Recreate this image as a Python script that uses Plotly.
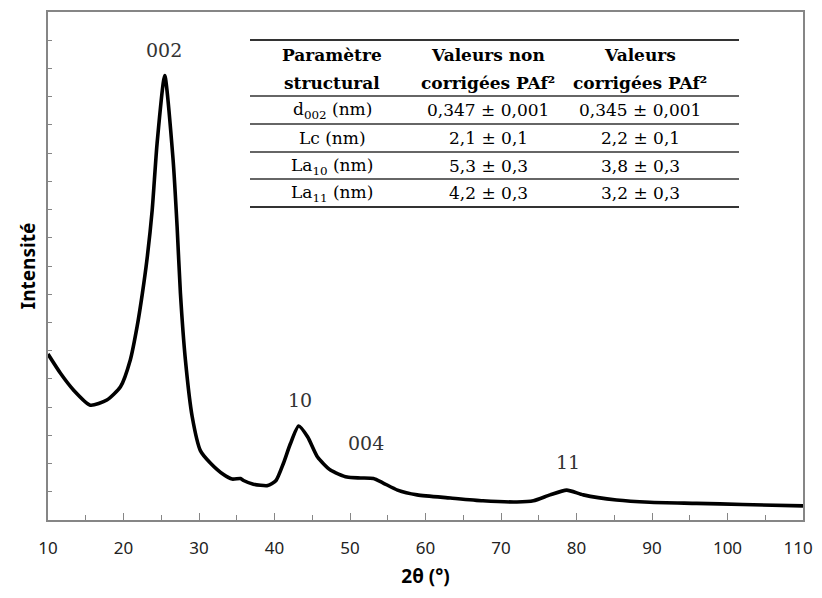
import plotly.graph_objects as go

# diffractogramme (2theta en degres, intensite en unites arbitraires)
two_theta = [10, 11.65, 13.4, 15.6, 17.8, 19.6, 20.9, 21.8, 22.5, 23.1, 23.8, 24.45,
             25.46, 26.57, 27.1, 27.54, 28.2, 29.1, 30.2, 31.5, 33.2,
             34.4, 35.5, 35.9, 37.2, 39.1, 40.2, 41.2, 42.1, 43.2, 44.4, 45.7, 47.4,
             49.6, 51.4, 53.1, 54.4, 56.3, 58.9, 63.3, 67.6, 72.1, 74.3, 76.5, 78.7,
             80.9, 85.3, 89.7, 95.9, 102, 110]
intensity = [5.88, 5.2, 4.6, 4.07, 4.25, 4.72, 5.67, 6.85, 8.03, 9.21, 10.98, 13.35,
             15.75, 12.76, 10.39, 8.03, 5.67, 3.66, 2.45, 2.02, 1.62,
             1.45, 1.47, 1.4, 1.27, 1.22, 1.4, 2.02, 2.7, 3.33, 2.94, 2.23, 1.77,
             1.52, 1.49, 1.47, 1.31, 1.06, 0.89, 0.78, 0.68, 0.64, 0.68, 0.89, 1.06,
             0.89, 0.71, 0.63, 0.59, 0.55, 0.5]

x_ticks = [10, 20, 30, 40, 50, 60, 70, 80, 90, 100, 110]
# last label padded with a figure space so it is not cut at the window edge
x_ticktext = [str(t) for t in x_ticks[:-1]] + ["110\u2007"]

peak_labels = ["002", "10", "004", "11"]
peak_x = [25.4, 43.4, 52.1, 78.9]
peak_y = [16.65, 4.25, 2.73, 2.06]

header_l1 = ["Paramètre", "Valeurs non", "Valeurs"]
header_l2 = ["structural", "corrigées PAf²", "corrigées PAf²"]
col_param = ["d<sub>002</sub> (nm)", "Lc (nm)", "La<sub>10</sub> (nm)", "La<sub>11</sub> (nm)"]
col_noncorr = ["0,347 ± 0,001", "2,1 ± 0,1", "5,3 ± 0,3", "4,2 ± 0,3"]
col_corr = ["0,345 ± 0,001", "2,2 ± 0,1", "3,8 ± 0,3", "3,2 ± 0,3"]

fig = go.Figure()
fig.add_trace(go.Scatter(x=two_theta, y=intensity, mode="lines",
                         line=dict(color="black", width=3.6, shape="spline", smoothing=0.6),
                         showlegend=False, hoverinfo="skip"))

serif = "DejaVu Serif"
for lab, px, py in zip(peak_labels, peak_x, peak_y):
    fig.add_annotation(x=px, y=py, text=lab, showarrow=False,
                       xanchor="center", yanchor="middle",
                       font=dict(family=serif, size=19, color="#333"))

# table: page pixels -> paper coords (plot area 48..803 x 12..520)
def xp(p):
    return (p - 48) / 755

def yp(p):
    return (520 - p) / 508

def cell(x, y, text, size=17):
    fig.add_annotation(x=xp(x), y=yp(y), xref="paper", yref="paper",
                       xanchor="center", yanchor="middle",
                       text=text, showarrow=False,
                       font=dict(family=serif, size=size, color="black"))

col_cx = [332, 488, 640]
for i in range(3):
    cell(col_cx[i], 55, "<b>" + header_l1[i] + "</b>")
    cell(col_cx[i], 83, "<b>" + header_l2[i] + "</b>")
row_y = [110, 138, 166, 193]
for ci, vals in enumerate([col_param, col_noncorr, col_corr]):
    for r, v in enumerate(vals):
        cell(col_cx[ci], row_y[r], v)

rules = [(40, 2.2), (96, 1.6), (124, 1.6), (152, 1.6), (179, 1.6), (207, 2.2)]
for ry, w in rules:
    fig.add_shape(type="line", xref="paper", yref="paper",
                  x0=xp(250), x1=xp(739), y0=yp(ry), y1=yp(ry),
                  line=dict(color="#333", width=w))

axis_col = "#868686"
# page has an 8px body margin, so the figure is sized to fit the window
fig.update_layout(
    width=814, height=582,
    margin=dict(l=40, r=19, t=4, b=70),
    paper_bgcolor="white", plot_bgcolor="white",
    xaxis=dict(range=[10, 110], tickvals=x_ticks, ticktext=x_ticktext,
               ticks="inside", ticklen=7,
               tickwidth=1.3, tickcolor=axis_col, automargin=False,
               ticklabeloverflow="allow",
               minor=dict(dtick=5, tick0=10, ticks="inside", ticklen=5,
                          tickcolor=axis_col, tickwidth=1.3),
               showline=True, linecolor=axis_col, linewidth=1.5, mirror=True,
               showgrid=False, zeroline=False,
               tickfont=dict(family="Noto Sans", size=17, color="#222"),
               ticklabelstandoff=12,
               title=dict(text="<b>2θ (°)</b>", standoff=12,
                          font=dict(family="Noto Sans", size=19, color="black"))),
    yaxis=dict(range=[0, 18], dtick=1, tick0=0, ticks="inside", ticklen=4,
               tickwidth=1.3, tickcolor=axis_col, showticklabels=False, automargin=False,
               showline=True, linecolor=axis_col, linewidth=1.5, mirror=True,
               showgrid=False, zeroline=False,
               title=dict(text="<b>Intensité</b>", standoff=6,
                          font=dict(family="Noto Sans", size=19, color="black"))),
)

fig.write_html("out.html")
